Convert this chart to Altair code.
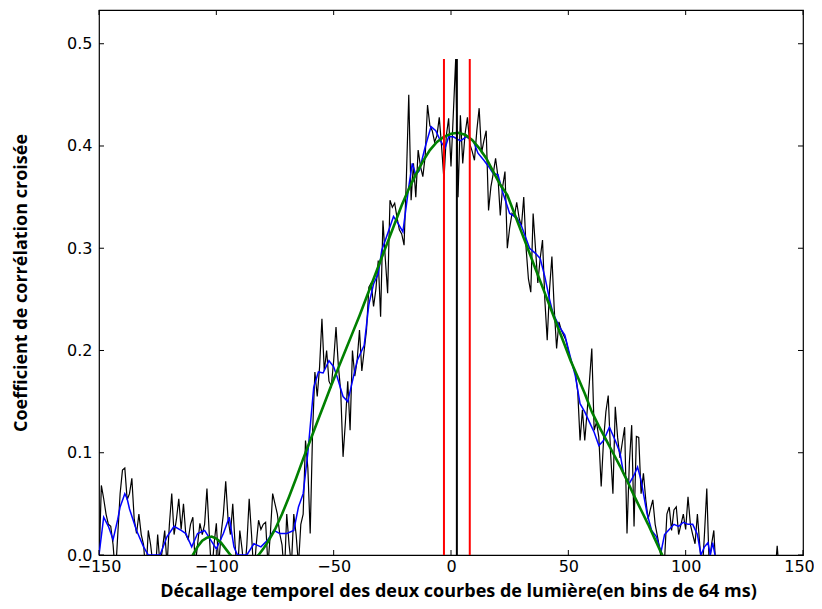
import altair as alt
import pandas as pd

# ---- data ----
black_x = list(range(-150, 151))
black_y = [
    -0.01, 0.068, 0.055, 0.04, 0.03, 0.028, 0.01, -0.02, 0.02, 0.06,
    0.083, 0.085, 0.054, 0.06, 0.075, 0.035, 0.021, 0.04, 0.02, 0.01,
    -0.02, 0.024, 0.01, -0.01, -0.02, 0.02, -0.01, 0.005, 0.024, -0.01,
    0.03, 0.06, 0.02, 0.035, 0.055, 0.025, 0.05, 0.02, 0.015, 0.03,
    0.037, -0.01, 0.01, 0.031, 0.02, 0.03, 0.065, 0.02, -0.02, 0.01,
    0.031, -0.01, 0.02, 0.04, 0.072, 0.035, 0.02, 0.05, 0.01, -0.02,
    0.024, 0.005, -0.02, 0.01, 0.055, 0.02, -0.02, 0.01, 0.034, 0.025,
    0.03, 0.032, -0.01, 0.02, 0.06, 0.05, 0.04, 0.021, 0.01, -0.02,
    0.04, 0.01, -0.01, 0.04, 0.02, -0.01, 0.03, 0.04, 0.112, 0.085,
    0.021, 0.119, 0.179, 0.155, 0.184, 0.231, 0.18, 0.2, 0.17, 0.165,
    0.19, 0.223, 0.185, 0.16, 0.096, 0.13, 0.17, 0.122, 0.2, 0.175,
    0.19, 0.22, 0.18, 0.2, 0.22, 0.262, 0.266, 0.243, 0.26, 0.288,
    0.233, 0.327, 0.29, 0.256, 0.347, 0.34, 0.344, 0.33, 0.318, 0.314,
    0.303, 0.37, 0.45, 0.347, 0.383, 0.35, 0.396, 0.38, 0.37, 0.39,
    0.44, 0.42, 0.415, 0.404, 0.41, 0.428, 0.399, 0.367, 0.41, 0.427,
    0.38, 0.432, 0.485, 0.35, 0.43, 0.383, 0.412, 0.428, 0.402, 0.395,
    0.386, 0.415, 0.437, 0.393, 0.405, 0.415, 0.337, 0.36, 0.373, 0.388,
    0.37, 0.332, 0.36, 0.375, 0.3, 0.32, 0.334, 0.331, 0.345, 0.33,
    0.321, 0.35, 0.3, 0.27, 0.257, 0.334, 0.3, 0.266, 0.29, 0.308,
    0.249, 0.21, 0.26, 0.292, 0.24, 0.202, 0.228, 0.22, 0.215, 0.21,
    0.2, 0.19, 0.185, 0.178, 0.16, 0.112, 0.142, 0.112, 0.14, 0.17,
    0.202, 0.122, 0.13, 0.115, 0.067, 0.112, 0.14, 0.156, 0.1, 0.06,
    0.145, 0.115, 0.095, 0.11, 0.125, 0.021, 0.09, 0.127, 0.028, 0.116,
    0.115, 0.06, 0.08, 0.054, 0.035, 0.045, 0.054, 0.03, 0.018, 0.005,
    -0.01, -0.005, 0.04, 0.047, 0.024, 0.044, 0.047, 0.02, 0.03, 0.04,
    0.025, 0.057, 0.03, 0.02, 0.011, 0.04, 0.01, -0.02, 0.02, 0.065,
    -0.01, 0.01, 0.024, -0.02, -0.02, -0.02, -0.02, -0.02, -0.02, -0.02,
    -0.02, -0.02, -0.02, -0.02, -0.02, -0.02, -0.02, -0.02, -0.02, -0.02,
    -0.02, -0.02, -0.02, -0.02, -0.02, -0.02, -0.02, -0.02, -0.02, 0.009,
    -0.02, -0.02, -0.02, -0.02, -0.02, -0.02, -0.02, -0.02, -0.02, -0.02,
    -0.02,
]

blue_x = [-150, -148, -146, -144, -142, -141, -139, -138, -137, -134, -131, -129,
          -124, -121, -118, -115, -113, -110.5, -108, -105, -102.5, -100, -97,
          -94.5, -92.5, -91, -87, -84, -81, -78, -75.5, -73, -70, -67, -65, -63,
          -61, -58.5, -56.5, -54.5, -52, -50, -48.5, -46, -44, -42, -40, -37, -35,
          -33, -31, -29.5, -27.5, -24.5, -22.5, -20.5, -18, -16.5, -15, -13.5, -11,
          -8.5, -6.5, -4.5, -2.5, -1, 1, 4, 6.5, 9.5, 11.5, 14, 16, 18, 20, 22, 25,
          28, 30, 33.5, 36, 38, 40, 42, 43.5, 46.5, 48.5, 50.5, 53, 55, 57, 59, 61,
          63, 65, 67.5, 70, 72, 73.5, 76, 78, 79.5, 81, 83.5, 85.5, 87.5, 89.5, 91,
          93, 95, 97, 99, 101, 103, 105, 106.5, 108, 109.5, 110.5, 111.5, 112.5]
blue_y = [0.0, 0.037, 0.028, 0.015, 0.035, 0.047, 0.06, 0.055, 0.045, 0.024, 0.008, 0.0,
          0.0, 0.018, 0.028, 0.024, 0.021, 0.008, 0.021, 0.024, 0.015, 0.006, 0.021,
          0.037, 0.008, 0.0, 0.0, 0.011, 0.008, 0.015, 0.024, 0.021, 0.021, 0.024, 0.047, 0.06,
          0.1, 0.164, 0.179, 0.178, 0.19, 0.184, 0.174, 0.155, 0.15, 0.17, 0.19, 0.205, 0.245,
          0.265, 0.275, 0.298, 0.311, 0.331, 0.324, 0.316, 0.36, 0.383, 0.372, 0.376, 0.399,
          0.419, 0.415, 0.405, 0.398, 0.409, 0.409, 0.405, 0.409, 0.405, 0.393, 0.386, 0.38, 0.373, 0.372, 0.355, 0.334,
          0.33, 0.322, 0.3, 0.295, 0.29, 0.272, 0.25, 0.236, 0.222, 0.215, 0.197, 0.175, 0.148, 0.14, 0.13, 0.12,
          0.107, 0.112, 0.125, 0.112, 0.1, 0.08, 0.07, 0.078, 0.086, 0.073, 0.041, 0.024, 0.018, 0.003, 0.02,
          0.025, 0.03, 0.028, 0.032, 0.03, 0.03, 0.02, 0.0, 0.008, 0.012, 0.0, 0.012, 0.0]

green_x = [-112, -110, -108, -106, -104, -102, -100, -98, -96, -94, -92, -88, -84, -82,
           -80, -78, -75, -72, -69, -66, -63, -60, -57, -54, -51, -48, -45, -42, -39,
           -36, -33, -30, -27, -24, -21, -18, -15, -12, -9, -6, -3, 0, 3, 6, 9, 12, 15,
           18, 21, 24, 27, 30, 33, 36, 39, 42, 45, 48, 51, 54, 57, 60, 63, 66, 69, 72,
           75, 78, 81, 84, 87, 90, 92]
green_y = [-0.008, 0.0, 0.008, 0.014, 0.017, 0.018, 0.016, 0.012, 0.006, 0.0, -0.005, -0.009, -0.004, 0.0,
           0.006, 0.013, 0.025, 0.04, 0.057, 0.075, 0.094, 0.112, 0.13, 0.148, 0.166, 0.183, 0.2, 0.217, 0.234,
           0.252, 0.27, 0.288, 0.306, 0.324, 0.342, 0.358, 0.372, 0.385, 0.396, 0.404, 0.409, 0.412, 0.413, 0.411, 0.406, 0.398, 0.388,
           0.375, 0.362, 0.352, 0.334, 0.316, 0.298, 0.28, 0.262, 0.244, 0.226, 0.208, 0.19, 0.174, 0.158, 0.14, 0.126, 0.113, 0.1, 0.087,
           0.073, 0.058, 0.044, 0.03, 0.015, 0.0, -0.01]

red_lines = [-3, 8]
black_lines = [2.5]
vline_top = 0.485

x_ticks = [-150, -100, -50, 0, 50, 100, 150]
y_ticks = [0.0, 0.1, 0.2, 0.3, 0.4, 0.5]
x_domain = [-150, 150]
y_domain = [0, 0.533]

x_title = "Décallage temporel des deux courbes de lumière(en bins de 64 ms)"
y_title = "Coefficient de corrélation croisée"

W, H = 704, 545
TICK = 5

black_df = pd.DataFrame({"x": black_x, "y": black_y})
blue_df = pd.DataFrame({"x": blue_x, "y": blue_y})
green_df = pd.DataFrame({"x": green_x, "y": green_y})
red_df = pd.DataFrame({"x": red_lines, "y0": [0] * len(red_lines), "y1": [vline_top] * len(red_lines)})
bl_df = pd.DataFrame({"x": black_lines, "y0": [0] * len(black_lines), "y1": [vline_top] * len(black_lines)})
xt_df = pd.DataFrame({"v": x_ticks})
yt_df = pd.DataFrame({"v": y_ticks})

xs = alt.Scale(domain=x_domain, nice=False, zero=False)
ys = alt.Scale(domain=y_domain, nice=False, zero=False)

x_axis = alt.Axis(values=x_ticks, ticks=False, domain=False, grid=False,
                  labelFont="DejaVu Sans", labelFontSize=16, labelColor="black",
                  labelPadding=3, labelFlush=False, labelOverlap=False,
                  labelOffset=alt.condition("datum.value == 150", alt.value(-4), alt.value(0)),
                  title=x_title, titleFont="Open Sans", titleFontWeight="bold",
                  titleFontSize=18, titleColor="black", titlePadding=8, titleX=359)
y_axis = alt.Axis(values=y_ticks, format=".1f", ticks=False, domain=False, grid=False,
                  labelFont="DejaVu Sans", labelFontSize=16, labelColor="black",
                  labelPadding=7, labelFlush=False, labelOverlap=False,
                  title=y_title, titleFont="Open Sans", titleFontWeight="bold",
                  titleFontSize=18, titleColor="black", titlePadding=36)

black_line = alt.Chart(black_df).mark_line(color="black", strokeWidth=1.2, clip=True).encode(
    x=alt.X("x:Q", scale=xs, axis=x_axis),
    y=alt.Y("y:Q", scale=ys, axis=y_axis),
)
blue_line = alt.Chart(blue_df).mark_line(color="#0000ff", strokeWidth=1.5, clip=True).encode(
    x=alt.X("x:Q", scale=xs), y=alt.Y("y:Q", scale=ys))
green_line = alt.Chart(green_df).mark_line(color="#008000", strokeWidth=2.6, clip=True).encode(
    x=alt.X("x:Q", scale=xs), y=alt.Y("y:Q", scale=ys))
red_rules = alt.Chart(red_df).mark_rule(color="#ff0000", strokeWidth=2).encode(
    x=alt.X("x:Q", scale=xs), y=alt.Y("y0:Q", scale=ys), y2="y1:Q")
black_rules = alt.Chart(bl_df).mark_rule(color="black", strokeWidth=2).encode(
    x=alt.X("x:Q", scale=xs), y=alt.Y("y0:Q", scale=ys), y2="y1:Q")

tick_bottom = alt.Chart(xt_df).mark_rule(color="black", strokeWidth=1).encode(
    x=alt.X("v:Q", scale=xs), y=alt.value(H), y2=alt.value(H - TICK))
tick_top = alt.Chart(xt_df).mark_rule(color="black", strokeWidth=1).encode(
    x=alt.X("v:Q", scale=xs), y=alt.value(0), y2=alt.value(TICK))
tick_left = alt.Chart(yt_df).mark_rule(color="black", strokeWidth=1).encode(
    y=alt.Y("v:Q", scale=ys), x=alt.value(0), x2=alt.value(TICK))
tick_right = alt.Chart(yt_df).mark_rule(color="black", strokeWidth=1).encode(
    y=alt.Y("v:Q", scale=ys), x=alt.value(W), x2=alt.value(W - TICK))

chart = alt.layer(
    black_line, blue_line, green_line, red_rules, black_rules,
    tick_bottom, tick_top, tick_left, tick_right,
).properties(
    width=W, height=H,
    autosize=alt.AutoSizeParams(type="none"),
    padding={"left": 91, "top": 2, "right": 11, "bottom": 50},
    background="white",
).configure_view(stroke="black", strokeWidth=1.2)

chart.save("out.html", embed_options={"renderer": "svg", "actions": False})
